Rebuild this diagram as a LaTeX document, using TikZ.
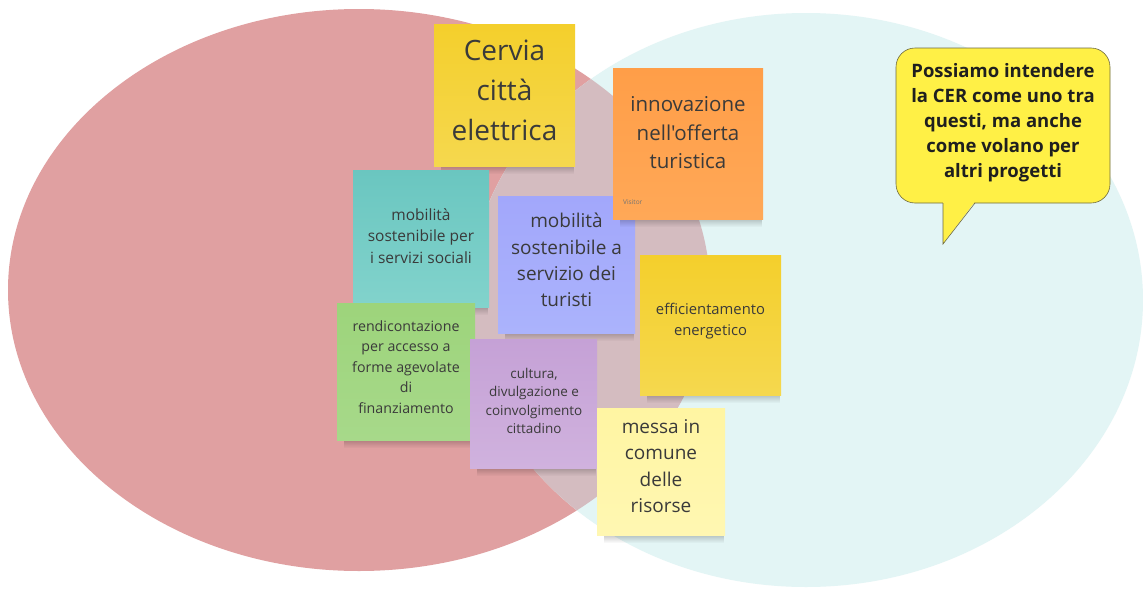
\documentclass[tikz,border=0pt]{standalone}
\usepackage{fontspec}
\setmainfont{Open Sans}[Ligatures=TeXOff]
\usetikzlibrary{fadings}
\definecolor{redell}{HTML}{E0A0A1}
\definecolor{cyanell}{HTML}{E3F5F5}
\definecolor{overlap}{HTML}{D4BCC0}
\definecolor{txtc}{HTML}{3A3A3A}
\definecolor{bubblefill}{HTML}{FFF046}
\definecolor{bubbleline}{HTML}{6E6A40}
\definecolor{yelA}{HTML}{F4CF2C}
\definecolor{yelB}{HTML}{F5D84E}
\definecolor{tealA}{HTML}{6AC6C0}
\definecolor{tealB}{HTML}{82D3CC}
\definecolor{lavA}{HTML}{A2A7FB}
\definecolor{lavB}{HTML}{ABB3FC}
\definecolor{orA}{HTML}{FF9E48}
\definecolor{orB}{HTML}{FFA857}
\definecolor{grA}{HTML}{9DD47B}
\definecolor{grB}{HTML}{A7D98A}
\definecolor{puA}{HTML}{C5A1D6}
\definecolor{puB}{HTML}{D0B2DE}
\definecolor{lyA}{HTML}{FFF5A2}
\definecolor{lyB}{HTML}{FFF7B2}
\tikzset{
  notebox/.style={draw=none, inner sep=0pt, rectangle},
  notetext/.style={text=txtc, align=center, inner sep=0pt},
}
% #1 name, #2 x1, #3 y1, #4 x2, #5 y2, #6 top colour, #7 bottom colour
\newcommand\stickynote[7]{%
  \fill[black, opacity=0.28, path fading=south] (#2+7,#5-3) rectangle (#4-1,#5+8);
  \node[notebox, top color=#6, bottom color=#7,
        minimum width={(#4-#2)*1pt}, minimum height={(#5-#3)*1pt}]
        (#1) at ({(#2+#4)/2},{(#3+#5)/2}) {};
}
\begin{document}
\begin{tikzpicture}[x=1pt,y=-1pt]
\useasboundingbox (0,0) rectangle (1143,589);
\fill[white] (0,0) rectangle (1143,589);
% Venn ellipses
\fill[redell] (359,290) ellipse [x radius=351, y radius=281];
\fill[cyanell] (806,300) ellipse [x radius=337, y radius=287];
\begin{scope}
  \clip (359,290) ellipse [x radius=351, y radius=281];
  \fill[overlap] (806,300) ellipse [x radius=337, y radius=287];
\end{scope}
% sticky notes
\stickynote{cerviabox}{434}{24}{575}{166}{yelA}{yelB}
\node[notetext, font=\fontsize{28}{40}\selectfont] (cervia) at (504.5,90) {Cervia\\città\\elettrica};

\stickynote{socialbox}{353}{170}{489}{307}{tealA}{tealB}
\node[notetext, font=\fontsize{15.5}{21.5}\selectfont] (social) at (421,236) {mobilità\\sostenibile per\\i servizi sociali};

\stickynote{turistibox}{498}{196}{635}{333}{lavA}{lavB}
\node[notetext, font=\fontsize{19}{26.3}\selectfont] (turisti) at (566.5,260) {mobilità\\sostenibile a\\servizio dei\\turisti};

\stickynote{innovbox}{613}{68}{763}{219}{orA}{orB}
\node[notetext, font=\fontsize{20.5}{28.5}\selectfont] (innov) at (688,133) {innovazione\\nell'offerta\\turistica};
\node[inner sep=0pt, anchor=west, text=black!55, font=\fontsize{6.5}{7}\selectfont] (visitor) at (623,202) {Visitor};

\stickynote{rendbox}{337}{303}{475}{440}{grA}{grB}
\node[notetext, font=\fontsize{14.2}{20.5}\selectfont] (rend) at (406,367) {rendicontazione\\per accesso a\\forme agevolate\\di\\finanziamento};

\stickynote{culturabox}{470}{339}{597}{468}{puA}{puB}
\node[notetext, font=\fontsize{13.5}{18.3}\selectfont] (cultura) at (534,401) {cultura,\\divulgazione e\\coinvolgimento\\cittadino};

\stickynote{efficbox}{640}{255}{781}{395}{yelA}{yelB}
\node[notetext, font=\fontsize{14.8}{21}\selectfont] (effic) at (710.5,321) {efficientamento\\energetico};

\stickynote{messabox}{597}{408}{725}{535}{lyA}{lyB}
\node[notetext, font=\fontsize{19}{26.3}\selectfont] (messa) at (661,466) {messa in\\comune\\delle\\risorse};

% speech bubble
\node[draw=bubbleline, line width=0.6pt, fill=bubblefill, rounded corners=19pt,
      minimum width=214pt, minimum height=155pt, inner sep=0pt] (bubble) at (1003,125.5) {};
\coordinate (tailtip) at (943,244);
\fill[bubblefill] (943,201.5) -- (tailtip) -- (975,201.5) -- cycle;
\draw[bubbleline, line width=0.6pt] (943,203) -- (tailtip) -- (975,203);
\node[align=center, inner sep=0pt, text=black!88, font=\bfseries\fontsize{18.5}{25}\selectfont] (bubbletext) at (1003,123)
  {Possiamo intendere\\la CER come uno tra\\questi, ma anche\\come volano per\\altri progetti};
\end{tikzpicture}
\end{document}
